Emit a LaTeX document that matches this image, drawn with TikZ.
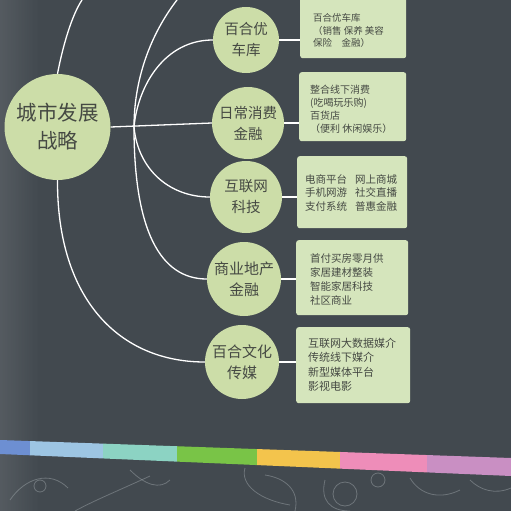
\documentclass[tikz,border=0pt]{standalone}
\usepackage{fontspec}
\setmainfont{Noto Sans CJK SC}
\usetikzlibrary{fadings}
\definecolor{bg}{HTML}{42494F}
\definecolor{cfill}{HTML}{CCDDA8}
\definecolor{bfill}{HTML}{D5E5BC}
\definecolor{tcol}{HTML}{454943}
\definecolor{s1}{HTML}{6D8FD2}
\definecolor{s2}{HTML}{9DC5E3}
\definecolor{s3}{HTML}{8CD3C3}
\definecolor{s4}{HTML}{79C447}
\definecolor{s5}{HTML}{F3C44C}
\definecolor{s6}{HTML}{EE8DB9}
\definecolor{s7}{HTML}{C98FC3}
\definecolor{doodlecol}{HTML}{9AA2A6}
\pgfdeclarelayer{backlayer}
\pgfdeclarelayer{linelayer}
\pgfsetlayers{backlayer,linelayer,main}
\begin{document}
\begin{tikzpicture}[x=1pt,y=-1pt,
  circ/.style={circle, fill=cfill, inner sep=0pt, text=tcol, align=center},
  box/.style={fill=bfill, rounded corners=2.5pt, inner sep=0pt, anchor=north west},
  btxt/.style={text=tcol, align=left, inner sep=0pt, anchor=west},
  conn/.style={draw=white, line width=1.3pt},
  doodle/.style={draw=doodlecol, line width=0.8pt, opacity=0.5}]
\useasboundingbox (0,0) rectangle (511,511);
\clip (0,0) rectangle (511,511);
\begin{pgfonlayer}{backlayer}
\fill[bg] (0,0) rectangle (511,511);
\fill[white, opacity=0.10, path fading=east] (-1,-1) rectangle (40,512);
\foreach \a/\b/\c in {0/30/s1,30/103/s2,103/177/s3,177/257/s4,257/340/s5,340/427/s6,427/511/s7}
  \fill[\c] (\a,{440+18*\a/511}) -- (\b,{440+18*\b/511}) -- (\b,{454+22*\b/511}) -- (\a,{454+22*\a/511}) -- cycle;
\draw[doodle] (10,500) .. controls (25,478) and (50,470) .. (68,488);
\draw[doodle] (40,486) circle (6);
\draw[doodle] (150,476) .. controls (120,490) and (95,500) .. (75,511);
\draw[doodle] (130,470) .. controls (145,485) and (160,490) .. (170,480);
\draw[doodle] (245,468) .. controls (240,485) and (260,500) .. (290,505);
\draw[doodle] (265,475) .. controls (285,478) and (300,490) .. (295,511);
\draw[doodle] (345,494) circle (12);
\draw[doodle] (325,480) .. controls (320,500) and (330,511) .. (350,511);
\draw[doodle] (378,480) circle (7);
\draw[doodle] (410,478) .. controls (420,495) and (440,500) .. (460,490);
\draw[doodle] (470,480) .. controls (480,490) and (495,495) .. (511,488);
\end{pgfonlayer}

% main circle and topic circles
\node[circ, minimum size=106pt, font=\fontsize{20.5}{28}\selectfont] (b) at (57.5,127) {城市发展\\战略};
\node[circ, minimum size=66pt, font=\fontsize{14.5}{21}\selectfont] (c1) at (246,40) {百合优\\车库};
\node[circ, minimum size=72pt, font=\fontsize{14.5}{21}\selectfont] (c2) at (248,123) {日常消费\\金融};
\node[circ, minimum size=72pt, font=\fontsize{14.5}{21}\selectfont] (c3) at (246,197) {互联网\\科技};
\node[circ, minimum size=74pt, font=\fontsize{15}{21}\selectfont] (c4) at (244,279) {商业地产\\金融};
\node[circ, minimum size=74pt, font=\fontsize{15}{21}\selectfont] (c5) at (242,362) {百合文化\\传媒};

% detail boxes
\node[box, minimum width=106pt, minimum height=64pt] (x1) at (300,-6) {};
\node[box, minimum width=107pt, minimum height=69pt] (x2) at (299,72) {};
\node[box, minimum width=110pt, minimum height=72pt] (x3) at (297,156) {};
\node[box, minimum width=112pt, minimum height=75pt] (x4) at (296,240) {};
\node[box, minimum width=114pt, minimum height=76pt] (x5) at (296,327) {};

\node[btxt, font=\fontsize{9.5}{12.5}\selectfont] (t1) at (313,30.5) {百合优车库\\（销售 保养 美容\\保险　金融）};
\node[btxt, font=\fontsize{10}{13}\selectfont] (t2) at (310,109.5) {整合线下消费\\(吃喝玩乐购)\\百货店\\（便利 休闲娱乐）};
\node[btxt, font=\fontsize{10.5}{13.5}\selectfont] (t3a) at (305,192.5) {电商平台\\手机网游\\支付系统};
\node[btxt, font=\fontsize{10.5}{13.5}\selectfont] (t3b) at (355,192.5) {网上商城\\社交直播\\普惠金融};
\node[btxt, font=\fontsize{10.5}{14}\selectfont] (t4) at (310,279) {首付买房零月供\\家居建材整装\\智能家居科技\\社区商业};
\node[btxt, font=\fontsize{11}{14.5}\selectfont] (t5) at (308,365) {互联网大数据媒介\\传统线下媒介\\新型媒体平台\\影视电影};

\coordinate (h) at (134,127);
\coordinate (tA) at (82,0);
\coordinate (tB) at (177,0);

\begin{pgfonlayer}{linelayer}
\draw[conn] (b.east) -- (c2.west);
\draw[conn] (b.north) .. controls (63,45) and (72,15) .. (tA);
\draw[conn] (tB) .. controls (150,35) and (134,80) .. (h);
\draw[conn] (h) .. controls (134,230) and (160,279) .. (c4.west);
\draw[conn] (h) .. controls (138,85) and (165,40) .. (c1.west);
\draw[conn] (h) .. controls (138,170) and (170,197) .. (c3.west);
\draw[conn] (b.south) .. controls (57,300) and (120,362) .. (c5.west);
\draw[conn] (c1.east) -- (c1.east -| x1.west);
\draw[conn] (c2.east) -- (c2.east -| x2.west);
\draw[conn] (c3.east) -- (c3.east -| x3.west);
\draw[conn] (c4.east) -- (c4.east -| x4.west);
\draw[conn] (c5.east) -- (c5.east -| x5.west);
\end{pgfonlayer}
\end{tikzpicture}
\end{document}
